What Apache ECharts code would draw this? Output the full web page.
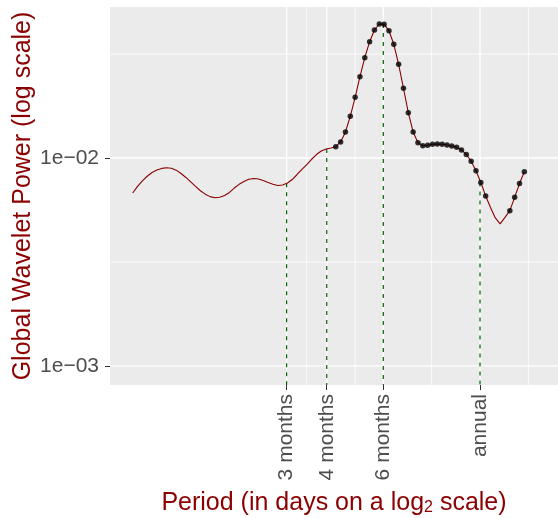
<!DOCTYPE html>
<html><head><meta charset="utf-8">
<script src="https://cdn.jsdelivr.net/npm/echarts@6/dist/echarts.min.js"></script>
<style>html,body{margin:0;padding:0;background:#fff}#c{width:558px;height:518px}</style>
</head><body><div id="c"></div>
<script>
// Period (days) of each wavelet scale
const periodDays = [
  30.28, 31.35, 32.45, 33.60, 34.78, 36.01, 37.28, 38.59, 39.95, 41.36,
  42.82, 44.33, 45.89, 47.51, 49.19, 50.92, 52.72, 54.58, 56.50, 58.49,
  60.56, 62.70, 64.91, 67.20, 69.57, 72.02, 74.56, 77.19, 79.91, 82.73,
  85.64, 88.66, 91.79, 95.02, 98.37, 101.84, 105.43, 109.15, 113.00, 116.99,
  121.12, 125.39, 129.81, 134.39, 139.13, 144.04, 149.12, 154.37, 159.82, 165.45,
  171.28, 177.32, 183.57, 190.05, 196.75, 203.69, 210.87, 218.31, 226.01, 233.97,
  242.24, 250.78, 259.63, 268.78, 278.26, 288.08, 298.23, 308.75, 319.64, 330.91,
  342.56, 354.64, 367.15, 380.10, 393.50, 407.38, 421.74, 436.61, 452.01, 467.95,
  484.48, 501.56
];
// Global wavelet power at each period
const globalPower = [
  0.00679, 0.00730, 0.00777, 0.00817, 0.00852, 0.00876, 0.00891, 0.00898, 0.00893, 0.00874,
  0.00842, 0.00806, 0.00767, 0.00730, 0.00696, 0.00670, 0.00652, 0.00644, 0.00647, 0.00660,
  0.00683, 0.00717, 0.00747, 0.00771, 0.00790, 0.00797, 0.00793, 0.00779, 0.00762, 0.00747,
  0.00738, 0.00742, 0.00758, 0.00788, 0.00833, 0.00882, 0.00930, 0.00986, 0.01039, 0.01081,
  0.01105, 0.01117, 0.01133, 0.01194, 0.01334, 0.01587, 0.01958, 0.02459, 0.03035, 0.03624,
  0.04125, 0.04408, 0.04400, 0.04088, 0.03521, 0.02822, 0.02164, 0.01651, 0.01334, 0.01185,
  0.01146, 0.01152, 0.01164, 0.01168, 0.01164, 0.01155, 0.01142, 0.01126, 0.01093, 0.01039,
  0.00964, 0.00869, 0.00762, 0.00657, 0.00578, 0.00515, 0.00482, 0.00518, 0.00558, 0.00647,
  0.00754, 0.00859
];
// 1 = significant (drawn as a point)
const significant = [
  0,0,0,0,0,0,0,0,0,0, 0,0,0,0,0,0,0,0,0,0,
  0,0,0,0,0,0,0,0,0,0, 0,0,0,0,0,0,0,0,0,0,
  0,0,1,1,1,1,1,1,1,1, 1,1,1,1,1,1,1,1,1,1,
  1,1,1,1,1,1,1,1,1,1, 1,1,1,1,0,0,0,0,1,1,
  1,1
];
const tickPeriods = [91.25, 121.67, 182.5, 365];
const tickLabels = ['3 months', '4 months', '6 months', 'annual'];
const tickPower = [0.00756, 0.01105, 0.0441, 0.00762];
const minorPeriods = [105.37, 149.0, 258.1, 516.2];
const yTickValues = [0.001, 0.01];
const yTickLabels = ['1e\u221203', '1e\u221202'];
const yMinorValues = [0.0031623, 0.031623];
const periodLimits = [25.73, 638.4];
const powerLimits = [0.000810, 0.05321];

const FONT = '"Liberation Sans", Arial, sans-serif';
const RED = '#8B0000';
const lx = v => Math.log2(v);
const ly = v => Math.log10(v);

const lineData = periodDays.map((p, i) => [lx(p), ly(globalPower[i])]);
const pointData = lineData.filter((d, i) => significant[i] === 1);
const xTickVals = tickPeriods.map(lx);
const yTickVals = yTickValues.map(ly);

function vGrid(width) {
  return function (params, api) {
    const cs = params.coordSys;
    const p = api.coord([api.value(0), api.value(1)]);
    return { type: 'line', shape: { x1: p[0], y1: cs.y, x2: p[0], y2: cs.y + cs.height },
      style: { stroke: '#ffffff', lineWidth: width } };
  };
}
function hGrid(width) {
  return function (params, api) {
    const cs = params.coordSys;
    const p = api.coord([api.value(0), api.value(1)]);
    return { type: 'line', shape: { x1: cs.x, y1: p[1], x2: cs.x + cs.width, y2: p[1] },
      style: { stroke: '#ffffff', lineWidth: width } };
  };
}

const chart = echarts.init(document.getElementById('c'), null, { renderer: 'canvas' });
chart.setOption({
  animation: false,
  backgroundColor: '#ffffff',
  grid: { left: 110, right: 0, top: 7, bottom: 133, show: true, backgroundColor: '#EBEBEB', borderWidth: 0,
    containLabel: false, outerBoundsMode: 'none' },
  xAxis: {
    type: 'value', min: lx(periodLimits[0]), max: lx(periodLimits[1]),
    axisLine: { show: false },
    splitLine: { show: false },
    axisTick: { show: true, customValues: xTickVals, length: 5, lineStyle: { color: '#333333', width: 1 } },
    axisLabel: {
      customValues: xTickVals, rotate: 90, margin: 9, fontSize: 21, color: '#4D4D4D', fontFamily: FONT,
      formatter: function (v) {
        for (let i = 0; i < xTickVals.length; i++) if (Math.abs(v - xTickVals[i]) < 1e-6) return tickLabels[i];
        return '';
      }
    },
    name: '{t|Period (in days on a log}{s|2}{t| scale)}',
    nameLocation: 'middle', nameGap: 106, nameMoveOverlap: false,
    nameTextStyle: { rich: {
      t: { fontSize: 25, color: RED, fontFamily: FONT },
      s: { fontSize: 16, color: RED, fontFamily: FONT, verticalAlign: 'bottom', padding: [0, 0, 0, 0] }
    } }
  },
  yAxis: {
    type: 'value', min: ly(powerLimits[0]), max: ly(powerLimits[1]),
    axisLine: { show: false },
    splitLine: { show: false },
    axisTick: { show: true, customValues: yTickVals, length: 5, lineStyle: { color: '#333333', width: 1 } },
    axisLabel: {
      customValues: yTickVals, margin: 11, fontSize: 21, color: '#4D4D4D', fontFamily: FONT,
      formatter: function (v) {
        for (let i = 0; i < yTickVals.length; i++) if (Math.abs(v - yTickVals[i]) < 1e-6) return yTickLabels[i];
        return '';
      }
    },
    name: 'Global Wavelet Power (log scale)',
    nameLocation: 'middle', nameGap: 74, nameRotate: 90, nameMoveOverlap: false,
    nameTextStyle: { fontSize: 25, color: RED, fontFamily: FONT }
  },
  series: [
    { type: 'custom', silent: true, z: 1, renderItem: vGrid(0.8),
      data: minorPeriods.map(p => [lx(p), yTickVals[0]]) },
    { type: 'custom', silent: true, z: 1, renderItem: vGrid(1.3),
      data: tickPeriods.map(p => [lx(p), yTickVals[0]]) },
    { type: 'custom', silent: true, z: 1, renderItem: hGrid(0.8),
      data: yMinorValues.map(v => [xTickVals[0], ly(v)]) },
    { type: 'custom', silent: true, z: 1, renderItem: hGrid(1.3),
      data: yTickVals.map(v => [xTickVals[0], v]) },
    { type: 'custom', silent: true, z: 2,
      data: tickPeriods.map((p, i) => [lx(p), ly(tickPower[i])]),
      renderItem: function (params, api) {
        const cs = params.coordSys;
        const p = api.coord([api.value(0), api.value(1)]);
        return { type: 'line', shape: { x1: p[0], y1: p[1], x2: p[0], y2: cs.y + cs.height },
          style: { stroke: '#006400', lineWidth: 1.2, lineDash: [4, 5] } };
      } },
    { type: 'line', z: 3, data: lineData, showSymbol: false, smooth: false, silent: true,
      lineStyle: { color: RED, width: 1.1 } },
    { type: 'scatter', z: 4, data: pointData, symbol: 'circle', symbolSize: 5.5, silent: true,
      itemStyle: { color: '#000000' } }
  ]
});
</script>
</body></html>
